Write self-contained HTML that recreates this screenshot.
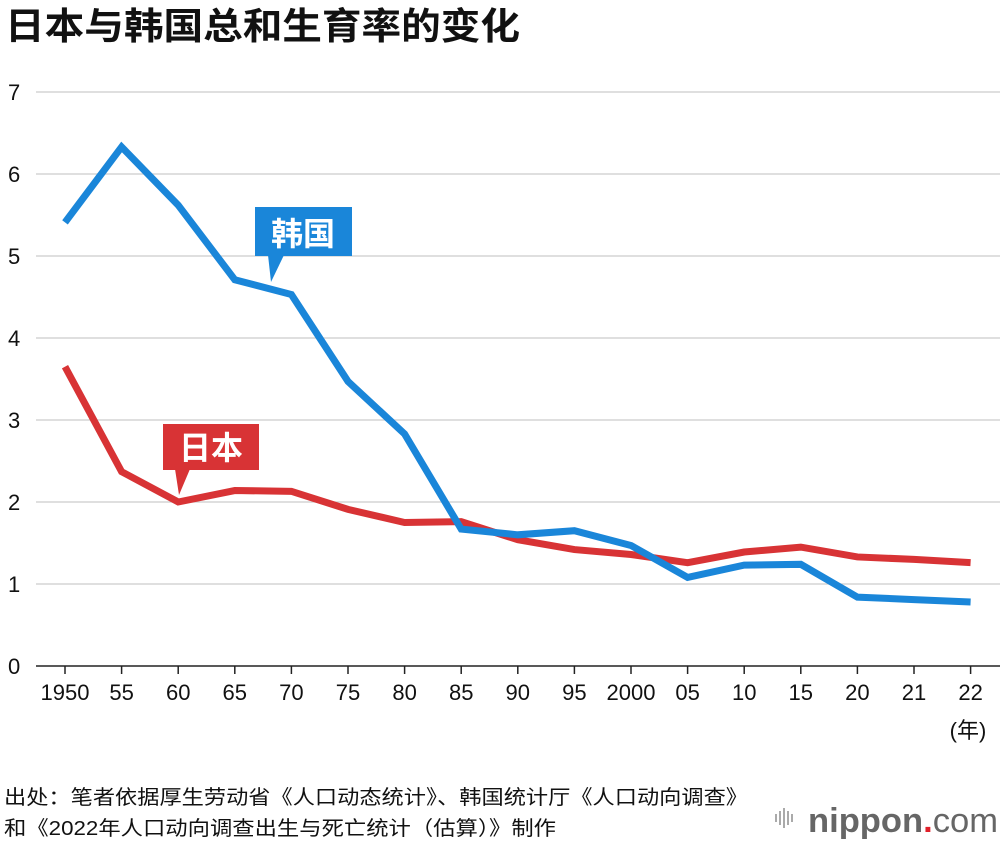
<!DOCTYPE html>
<html><head><meta charset="utf-8"><style>
body{margin:0;background:#fff;width:1000px;height:844px;overflow:hidden;font-family:"Liberation Sans","Noto Sans CJK SC",sans-serif;}
svg text{font-family:"Liberation Sans","Noto Sans CJK SC",sans-serif;}
</style></head><body>
<svg id="c" width="1000" height="844">
<text x="5" y="39" font-size="37" font-weight="bold" fill="#111" textLength="515" lengthAdjust="spacingAndGlyphs">日本与韩国总和生育率的变化</text>
<g id="grid"></g><g id="lines"></g>
<g>
<rect x="255" y="207" width="97" height="49" fill="#1a86d9"/>
<polygon points="268,255 284,255 271,282" fill="#1a86d9"/>
<text x="303" y="245" font-size="32" font-weight="bold" fill="#fff" text-anchor="middle">韩国</text></g>
<g>
<rect x="163" y="424" width="96" height="46" fill="#d83335"/>
<polygon points="175,469 190,469 179,495" fill="#d83335"/>
<text x="211" y="459" font-size="32" font-weight="bold" fill="#fff" text-anchor="middle">日本</text></g>
<text x="968" y="738" font-size="22" fill="#111" text-anchor="middle">(年)</text>
<text x="4" y="804" font-size="20" fill="#111" textLength="744" lengthAdjust="spacingAndGlyphs">出处：笔者依据厚生劳动省《人口动态统计》、韩国统计厅《人口动向调查》</text>
<text x="4" y="835" font-size="20" fill="#111" textLength="552" lengthAdjust="spacingAndGlyphs">和《2022年人口动向调查出生与死亡统计（估算）》制作</text>
<g>
<g fill="#aaa"><rect x="775" y="814" width="2" height="8"/><rect x="779" y="811" width="2" height="14"/><rect x="783" y="808" width="2" height="20"/><rect x="787" y="811" width="2" height="14"/><rect x="791" y="814" width="2" height="8"/></g>
<text x="808" y="832" font-size="34" fill="#666" textLength="190" lengthAdjust="spacingAndGlyphs"><tspan font-weight="bold">nippon</tspan><tspan fill="#e0202a" font-weight="bold">.</tspan><tspan>com</tspan></text></g>
</svg>
<script>
const categories=["1950","55","60","65","70","75","80","85","90","95","2000","05","10","15","20","21","22"];
const korea=[5.41,6.33,5.62,4.71,4.53,3.47,2.83,1.67,1.60,1.65,1.47,1.08,1.23,1.24,0.84,0.81,0.78];
const japan=[3.65,2.37,2.00,2.14,2.13,1.91,1.75,1.76,1.54,1.42,1.36,1.26,1.39,1.45,1.33,1.30,1.26];
const yTicks=[0,1,2,3,4,5,6,7];
const NS="http://www.w3.org/2000/svg";
const x=i=>65+i*56.6;
const y=v=>666-v*82;
const grid=document.getElementById('grid'),lines=document.getElementById('lines');
function mk(t,a,p){const e=document.createElementNS(NS,t);for(const k in a)e.setAttribute(k,a[k]);p.appendChild(e);return e;}
yTicks.forEach(v=>{
 const l=mk('line',{x1:36,x2:1000,y1:y(v),y2:y(v),stroke:v===0?'#222':'#ccc','stroke-width':v===0?1.5:1.2},grid);
 
 
 const t=mk('text',{x:8,y:y(v)+8,'font-size':22,fill:'#111'},grid);t.textContent=v;
 
 
});
categories.forEach((c,i)=>{
 const l=mk('line',{x1:x(i),x2:x(i),y1:666,y2:674,stroke:'#222','stroke-width':1.5},grid);
 
 
 const t=mk('text',{x:x(i),y:700,'font-size':22,fill:'#111','text-anchor':'middle'},grid);t.textContent=c;
 
 
});
function line(d,col,name){
 const p=mk('polyline',{points:d.map((v,i)=>x(i)+','+y(v)).join(' '),fill:'none',stroke:col,'stroke-width':7,'stroke-linejoin':'miter'},lines);
 
 
}
line(japan,'#d83335','japan-line');
line(korea,'#1a86d9','korea-line');
</script>
</body></html>
